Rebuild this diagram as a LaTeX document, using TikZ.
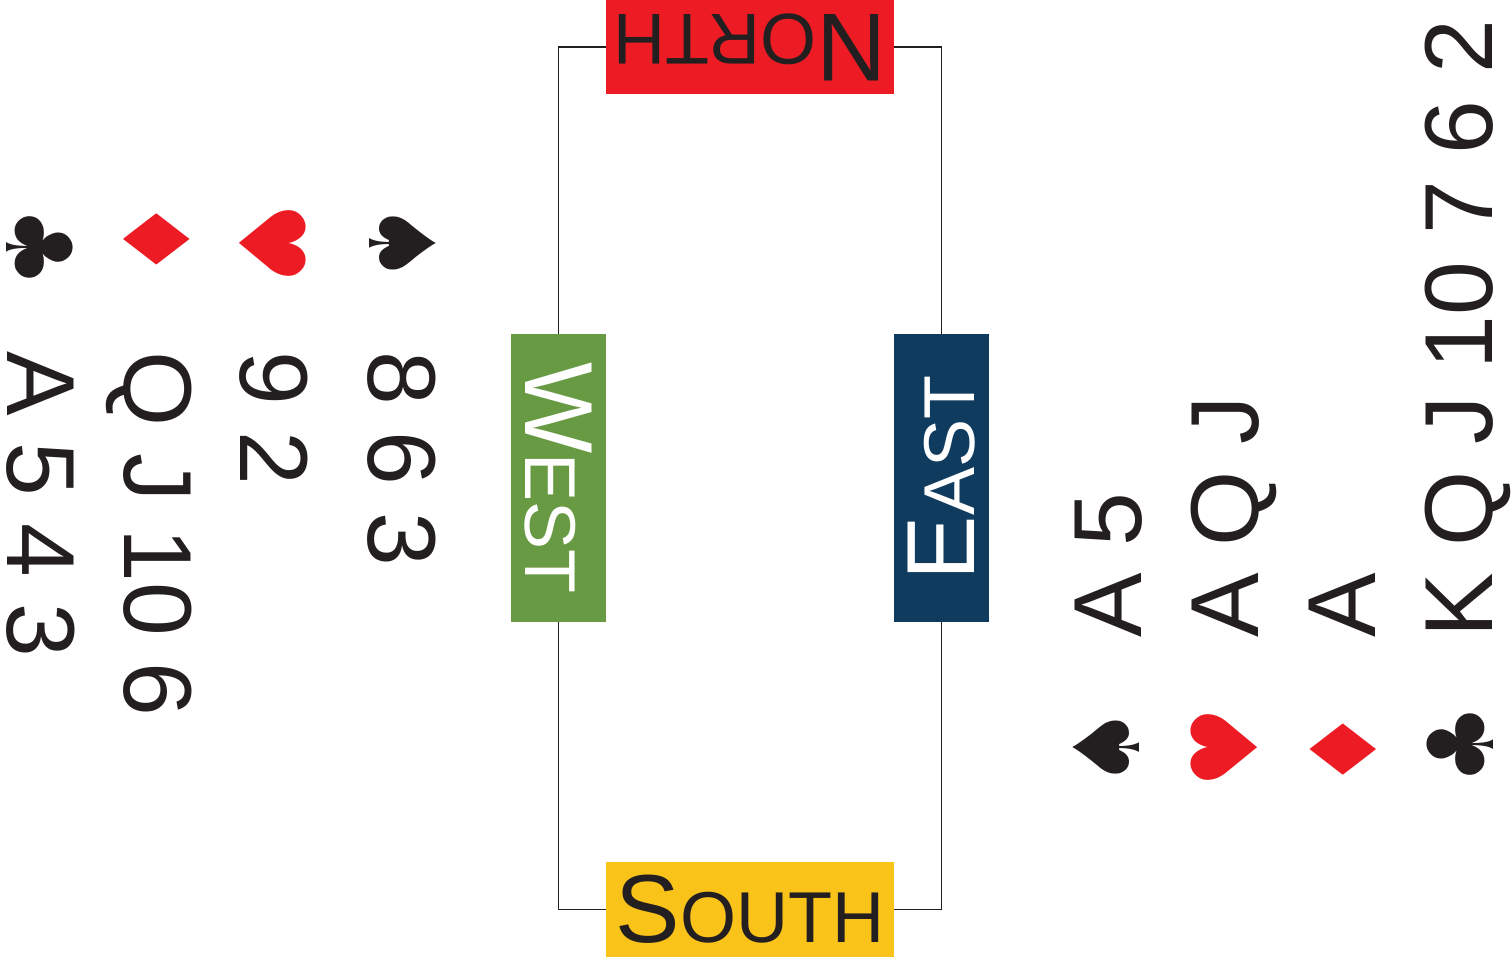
\documentclass[tikz,border=0pt]{standalone}
\usepackage{fontspec}
\setmainfont{Liberation Sans}
\newfontfamily\suitfont{DejaVu Sans}
\usetikzlibrary{positioning}
\definecolor{ink}{HTML}{231F20}
\definecolor{cardred}{HTML}{ED1C24}
\definecolor{northred}{HTML}{ED1C24}
\definecolor{southyellow}{HTML}{FAC31A}
\definecolor{westgreen}{HTML}{689A43}
\definecolor{eastnavy}{HTML}{0F3B5F}
\newcommand{\seatname}[2]{{\fontsize{55}{60}\selectfont #1}{\fontsize{41}{45}\selectfont #2}}

\begin{document}
\begin{tikzpicture}[
	seat/.style={minimum width=5.76cm, minimum height=1.9cm, inner sep=0pt},
	hand/.style={inner sep=0pt, anchor=base west, text=ink, font=\fontsize{55}{60}\selectfont},
	suit/.style={inner sep=0pt, font=\suitfont\fontsize{52}{60}\selectfont}]
		%%%%% START %%%%%
		\useasboundingbox (0, 0) rectangle (30.24, 19.28);
		
		\node[seat, fill=northred, text=ink, rotate=180] (north) at (15.0, 18.34) {\seatname{N}{ORTH}};
		\node[seat, fill=southyellow, text=ink] (south) at (15.0, 1.09) {\seatname{S}{OUTH}};
		\node[seat, fill=westgreen, text=white, rotate=-90] (west) at (11.17, 9.72) {\seatname{W}{EST}};
		\node[seat, fill=eastnavy, text=white, rotate=90] (east) at (18.83, 9.72) {\seatname{E}{AST}};
		
		\draw[ink, line width=1.1pt] (north) -| (west);
		\draw[ink, line width=1.1pt] (north) -| (east);
		\draw[ink, line width=1.1pt] (south) -| (west);
		\draw[ink, line width=1.1pt] (south) -| (east);
		
		% west hand
		\node[suit, text=ink, rotate=-90] (wspade) at (8.06, 14.42) {♠};
		\node[suit, text=cardred, rotate=-90] (wheart) at (5.46, 14.42) {♥};
		\node[suit, text=cardred, rotate=-90] (wdiamond) at (3.14, 14.50) {♦};
		\node[suit, text=ink, rotate=-90] (wclub) at (0.80, 14.34) {♣};
		\node[hand, rotate=-90] (wspades) at (7.36, 12.26) {8 6 3};
		\node[hand, rotate=-90] (whearts) at (4.80, 12.26) {9 2};
		\node[hand, rotate=-90] (wdiamonds) at (2.48, 12.26) {Q J 10 6};
		\node[hand, rotate=-90] (wclubs) at (0.14, 12.26) {A 5 4 3};
		
		% east hand
		\node[suit, text=ink, rotate=90] (espade) at (22.12, 4.32) {♠};
		\node[suit, text=cardred, rotate=90] (eheart) at (24.48, 4.32) {♥};
		\node[suit, text=cardred, rotate=90] (ediamond) at (26.86, 4.28) {♦};
		\node[suit, text=ink, rotate=90] (eclub) at (29.20, 4.38) {♣};
		\node[hand, rotate=90] (espades) at (22.82, 6.52) {A 5};
		\node[hand, rotate=90] (ehearts) at (25.16, 6.52) {A Q J};
		\node[hand, rotate=90] (ediamonds) at (27.50, 6.52) {A};
		\node[hand, rotate=90] (eclubs) at (29.84, 6.52) {K Q J 10 7 6 2};
		%%%%% END %%%%%
\end{tikzpicture}
\end{document}
